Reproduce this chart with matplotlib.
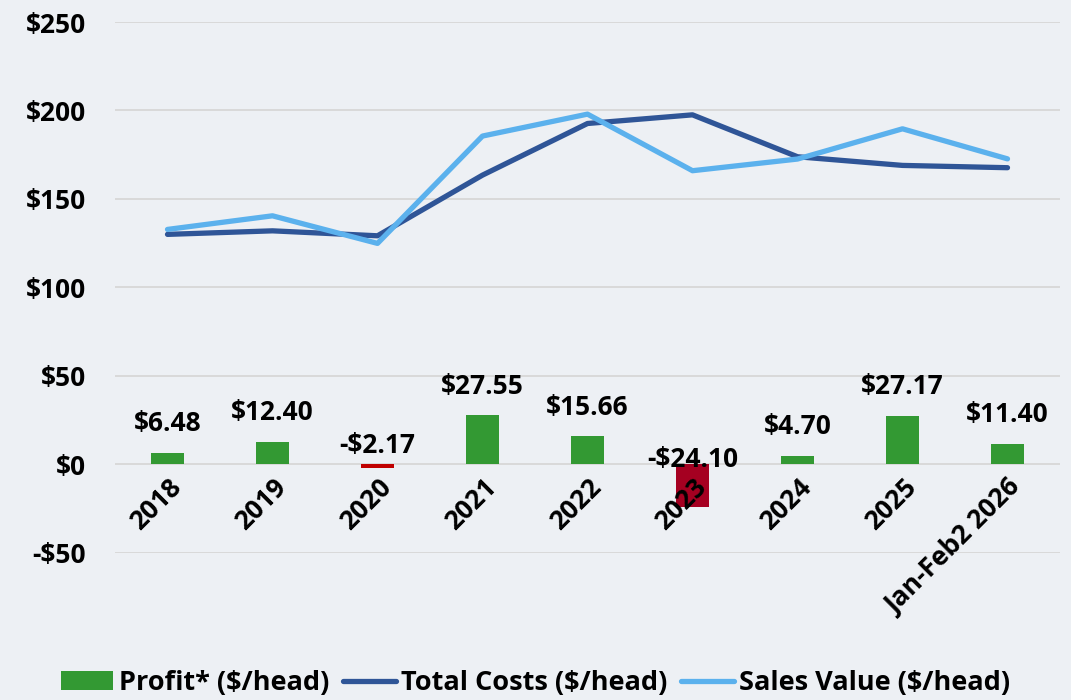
import matplotlib
matplotlib.use("Agg")
import matplotlib.pyplot as plt
from matplotlib.patches import Patch
from matplotlib.lines import Line2D

plt.rcParams['font.family'] = ['Open Sans', 'DejaVu Sans']
plt.rcParams['font.weight'] = 'bold'

categories = ["2018", "2019", "2020", "2021", "2022", "2023", "2024", "2025", "Jan-Feb2 2026"]
profit = [6.48, 12.40, -2.17, 27.55, 15.66, -24.10, 4.70, 27.17, 11.40]
total_costs = [129.9, 131.9, 129.1, 163.4, 192.6, 197.5, 173.8, 168.9, 167.6]
sales_value = [132.7, 140.4, 124.8, 185.5, 197.9, 165.9, 172.5, 189.6, 172.6]
y_ticks = [-50, 0, 50, 100, 150, 200, 250]

bg = '#EDF0F4'
green = '#339933'
neg_colors = {2: '#C00000', 5: '#A50021'}
dark_blue = '#2F5597'
light_blue = '#5BB1ED'
FS = 19

fig = plt.figure(figsize=(10.71, 7.0), dpi=100)
fig.patch.set_facecolor(bg)
ax = fig.add_axes([115/1071, 1 - 552.5/700, (1060 - 115)/1071, (552.5 - 22)/700])
ax.set_facecolor(bg)

x = list(range(len(categories)))
colors = [neg_colors.get(i, green) if v < 0 else green for i, v in enumerate(profit)]
for t in y_ticks:
    ax.axhline(t, color='#D9D9D9', lw=1.4, zorder=0)
ax.bar(x, profit, width=0.31, color=colors, zorder=1)
ax.plot(x, total_costs, color=dark_blue, lw=3.8, solid_capstyle='round', zorder=3)
ax.plot(x, sales_value, color=light_blue, lw=3.8, solid_capstyle='round', zorder=4)

ax.set_xlim(-0.5, len(categories) - 0.5)
ax.set_ylim(-50, 250)
ax.set_yticks(y_ticks)
ax.set_yticklabels([f"-${abs(t)}" if t < 0 else f"${t}" for t in y_ticks],
                   fontsize=FS, fontweight='bold')
for s in ax.spines.values():
    s.set_visible(False)
ax.spines['bottom'].set_position(('data', 0))
ax.tick_params(axis='both', length=0)
ax.tick_params(axis='y', pad=21)
ax.set_xticks(x)
ax.set_xticklabels(categories, rotation=45, ha='right', va='top',
                   rotation_mode='anchor', fontsize=FS, fontweight='bold')
ax.tick_params(axis='x', pad=7)
ax.xaxis.set_zorder(2)

neg_offsets = {2: 19, 5: 5}
for i, v in enumerate(profit):
    lbl = f"-${abs(v):.2f}" if v < 0 else f"${v:.2f}"
    if v >= 0:
        ax.annotate(lbl, xy=(i, v), xytext=(0, 21), textcoords='offset points',
                    ha='center', va='center', fontsize=FS, fontweight='bold', zorder=6)
    else:
        ax.annotate(lbl, xy=(i, 0), xytext=(0, neg_offsets[i] * 0.72), textcoords='offset points',
                    ha='center', va='center', fontsize=FS, fontweight='bold', zorder=6)

handles = [Patch(facecolor=green, label='Profit* ($/head)'),
           Line2D([0], [0], color=dark_blue, lw=3.8, solid_capstyle='round', label='Total Costs ($/head)'),
           Line2D([0], [0], color=light_blue, lw=3.8, solid_capstyle='round', label='Sales Value ($/head)')]
leg = fig.legend(handles=handles, loc='center', bbox_to_anchor=(0.5, 1 - 683/700), ncol=3,
                 frameon=False, handlelength=1.95, handleheight=0.65,
                 handletextpad=0.2, columnspacing=0.5,
                 prop={'weight': 'bold', 'size': 19.5})

fig.savefig('out.png', dpi=100, facecolor=bg)
